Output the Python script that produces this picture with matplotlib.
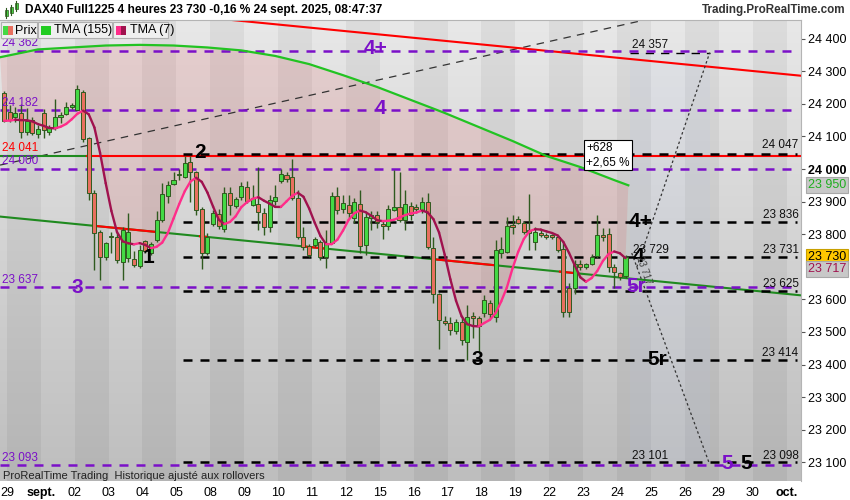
import numpy as np
import pandas as pd
import matplotlib
matplotlib.use("Agg")
import matplotlib.pyplot as plt
from matplotlib.collections import LineCollection
from matplotlib.colors import LinearSegmentedColormap
from matplotlib.patches import Rectangle

plt.rcParams['font.family'] = ['Liberation Sans', 'DejaVu Sans']

# DAX40 4h candles (6 per day), last one of 28 aug -> 24 sept 08:00
opens = [24232, 24176, 24159, 24173, 24114, 24150, 24106, 24171, 24115, 24125,
         24159, 24168, 24191, 24181, 24237, 24094, 23925, 23806, 23729, 23790,
         23792, 23716, 23726, 23723, 23702, 23780, 23741, 23782, 23843, 23918,
         23953, 23982, 23976, 24022, 23990, 23876, 23741, 23830, 23862, 23815,
         23925, 23885, 23913, 23944, 23889, 23892, 23864, 23823, 23903, 23964,
         23982, 23976, 23910, 23792, 23764, 23766, 23777, 23729, 23774, 23918,
         23876, 23889, 23849, 23892, 23767, 23849, 23858, 23831, 23825, 23874,
         23884, 23843, 23887, 23882, 23874, 23898, 23757, 23616, 23535, 23528,
         23504, 23531, 23470, 23550, 23542, 23559, 23590, 23547, 23741, 23746,
         23828, 23846, 23835, 23813, 23777, 23804, 23799, 23796, 23792, 23753,
         23634, 23634, 23710, 23698, 23710, 23733, 23799, 23800, 23700, 23680, 23672]
highs = [24240, 24196, 24191, 24200, 24186, 24161, 24135, 24183, 24135, 24214,
         24176, 24207, 24203, 24258, 24242, 24099, 23936, 23813, 23776, 23808,
         23808, 23823, 23864, 23747, 23767, 23782, 23776, 23872, 23956, 23962,
         23990, 24000, 24040, 24040, 23993, 23884, 23803, 23874, 23878, 23946,
         23946, 23915, 23960, 23962, 23951, 24007, 23879, 23920, 23951, 23999,
         23992, 24031, 23935, 23821, 23770, 23790, 23782, 23813, 23930, 23946,
         23920, 23920, 23912, 23936, 23864, 23870, 23870, 23843, 23890, 23997,
         23992, 23936, 23900, 23892, 23913, 23927, 23790, 23619, 23549, 23545,
         23539, 23550, 23583, 23560, 23549, 23614, 23598, 23782, 23792, 23854,
         23860, 23856, 23840, 23923, 23822, 23813, 23805, 23800, 23799, 23776,
         23650, 23720, 23720, 23712, 23740, 23859, 23818, 23818, 23710, 23685, 23735]
lows = [24144, 24145, 24145, 24094, 24104, 24104, 24094, 24094, 24105, 24120,
        24140, 24166, 24185, 24181, 24084, 23905, 23690, 23659, 23720, 23741,
        23711, 23659, 23716, 23700, 23695, 23742, 23736, 23777, 23838, 23895,
        23951, 23965, 23971, 23900, 23859, 23692, 23736, 23825, 23815, 23808,
        23859, 23880, 23905, 23895, 23887, 23813, 23797, 23808, 23890, 23956,
        23959, 23905, 23785, 23751, 23730, 23760, 23720, 23695, 23772, 23862,
        23864, 23849, 23834, 23741, 23736, 23813, 23820, 23786, 23813, 23872,
        23838, 23813, 23845, 23866, 23864, 23756, 23588, 23447, 23520, 23490,
        23494, 23460, 23414, 23480, 23439, 23546, 23542, 23532, 23726, 23743,
        23800, 23830, 23800, 23751, 23751, 23790, 23786, 23786, 23745, 23546,
        23547, 23617, 23690, 23692, 23705, 23727, 23780, 23685, 23634, 23660, 23666]
closes = [24148, 24150, 24173, 24114, 24147, 24110, 24122, 24120, 24125, 24159,
          24166, 24189, 24196, 24245, 24091, 23925, 23803, 23731, 23772, 23794,
          23721, 23813, 23808, 23705, 23751, 23749, 23770, 23843, 23922, 23951,
          23966, 23986, 24017, 23990, 23874, 23741, 23792, 23864, 23825, 23925,
          23889, 23908, 23949, 23902, 23910, 23867, 23821, 23905, 23915, 23985,
          23968, 23910, 23792, 23761, 23736, 23785, 23729, 23772, 23918, 23873,
          23895, 23864, 23898, 23765, 23852, 23859, 23838, 23825, 23876, 23882,
          23843, 23892, 23859, 23876, 23898, 23760, 23616, 23537, 23526, 23506,
          23530, 23475, 23547, 23542, 23518, 23598, 23555, 23751, 23754, 23825,
          23823, 23834, 23806, 23805, 23808, 23796, 23792, 23792, 23751, 23562,
          23562, 23710, 23700, 23707, 23729, 23797, 23792, 23700, 23685, 23669, 23730]

day_labels = ['29', 'sept.', '02', '03', '04', '05', '08', '09', '10', '11', '12',
              '15', '16', '17', '18', '19', '22', '23', '24', '25', '26', '29', '30', 'oct.']
bars_per_day = 6

# TMA(155) (bar index, value)
tma155_bar = [-0.7, 6, 12, 18, 24, 30, 36, 42, 48, 54, 60, 66, 72, 78, 84, 90, 96, 102, 108, 110.5]
tma155_val = [24343, 24367, 24373, 24379, 24381, 24379, 24373, 24364, 24347, 24322,
              24288, 24252, 24212, 24172, 24129, 24086, 24040, 24006, 23966, 23950]

purple_levels = [24362, 24182, 24000, 23637, 23093]
black_levels = [24047, 23836, 23731, 23625, 23414, 23100]
black_start = 31.7
resist_level = 24041
resist_switch = 14.7
target_high = 24357
target_low = 23098
target_span = (110.8, 125.0)

green_trend = ([-0.7, 141.8], [23854, 23611])
green_trend_red = [(15.8, 26.7), (34.7, 35.9), (52.9, 56.8), (75.9, 87.3), (98.4, 100.7)]
red_trend = ([40.5, 141.8], [24457, 24285])
grey_trend = ([-0.7, 113.3], [24012, 24457])
proj_up = ([112.0, 124.9], [23699, 24357])
proj_down = ([111.1, 124.8], [23742, 23098])

yticks = [24400, 24300, 24200, 24100, 24000, 23900, 23800, 23600, 23500, 23400, 23300, 23200, 23100]

x = np.arange(len(closes))
o = np.array(opens, float)
c = np.array(closes, float)
tma7 = pd.Series(c).rolling(4, min_periods=1).mean().rolling(4, min_periods=1).mean().to_numpy()

fig = plt.figure(figsize=(8.5, 5), dpi=100)
ax = fig.add_axes([0, 19 / 500, 801 / 850, 461 / 500])
xmin, xmax = -0.71, 141.06
ymin, ymax = 23042.5, 24457.3
ax.set_xlim(xmin, xmax)
ax.set_ylim(ymin, ymax)

# background: vertical gradient + alternating day bands
cmap = LinearSegmentedColormap.from_list('bg', ['#bebebe', '#e8e8e8'])
ax.imshow(np.linspace(0, 1, 256).reshape(-1, 1), extent=[xmin, xmax, ymin, ymax],
          origin='lower', aspect='auto', cmap=cmap, zorder=0)
for d in range(-1, len(day_labels)):
    if d % 2 == 0:
        ax.axvspan(bars_per_day * d + 0.5, bars_per_day * d + 6.5, color='k', alpha=0.05, lw=0, zorder=0.5)
# projection target zone
ax.fill_between(target_span, target_low, target_high, color='#b4c4ea', alpha=0.12, lw=0, zorder=0.6)

# pink zone between TMA155 and TMA7
ax.fill(np.r_[tma155_bar, x[::-1]], np.r_[tma155_val, tma7[::-1]],
        color='#e05a5a', alpha=0.17, lw=0, zorder=1)

# trend lines
ax.plot(*grey_trend, color='#333333', lw=0.9, dashes=(6, 5), zorder=2)
ax.plot(*red_trend, color='#ff0000', lw=1.5, zorder=2)
ax.plot(*green_trend, color='#1f8a1f', lw=1.5, zorder=2)
gx0, gx1 = green_trend[0]
gy0, gy1 = green_trend[1]
for a, b in green_trend_red:
    ya = gy0 + (gy1 - gy0) * (a - gx0) / (gx1 - gx0)
    yb = gy0 + (gy1 - gy0) * (b - gx0) / (gx1 - gx0)
    ax.plot([a, b], [ya, yb], color='#ff0000', lw=1.5, zorder=2.1)
ax.plot([xmin, resist_switch], [resist_level] * 2, color='#1f8a1f', lw=1.5, zorder=2)
ax.plot([resist_switch, xmax], [resist_level] * 2, color='#ff0000', lw=1.5, zorder=2)

# horizontal levels
for lv in purple_levels:
    ax.plot([xmin, 140.4], [lv, lv], color='#7b10c8', lw=1.8, dashes=(3.6, 3.2), zorder=2.5)
for lv in black_levels:
    ax.plot([black_start, 140.4], [lv, lv], color='black', lw=1.8, dashes=(3.6, 3.2), zorder=2.6)
ax.plot(target_span, [target_high] * 2, color='black', lw=1.0, dashes=(6, 5), zorder=2.4)

# projections
ax.plot(*proj_up, color='#333333', lw=0.9, dashes=(2, 2), zorder=2.7)
ax.plot(*proj_down, color='#333333', lw=0.9, dashes=(2, 2), zorder=2.7)

# candles
up = c >= o
edge = '#2f5a1f'
ax.vlines(x, lows, highs, color=edge, lw=1, zorder=3)
body = np.maximum(np.abs(c - o), 3)
ax.bar(x, body, bottom=np.minimum(o, c), width=0.72,
       color=np.where(up, '#44d944', '#e8705f'), edgecolor=edge, lw=0.7, zorder=4)

# TMA lines
ax.plot(tma155_bar, tma155_val, color='#22c322', lw=1.6, zorder=5)
pts = np.column_stack([x, tma7])
segs = np.stack([pts[:-1], pts[1:]], axis=1)
cols = np.where(np.diff(tma7) >= 0, '#ff2d8a', '#a0124e')
ax.add_collection(LineCollection(segs, colors=cols, lw=1.7, zorder=5.5, capstyle='round'))

# wave labels
big = dict(fontsize=15, fontweight='bold', ha='center', va='center', zorder=7)
for t, bx, py in [('1', 25.5, 23727), ('2', 34.7, 24052), ('3', 83.7, 23414),
                  ('4+', 112.6, 23840), ('4', 112.2, 23730), ('5r', 115.6, 23414), ('5', 131.3, 23095)]:
    ax.text(bx, py, t, color='black', **big)
for t, bx, py in [('3', 12.9, 23635), ('4+', 65.7, 24371), ('4', 66.7, 24187),
                  ('5r', 111.9, 23638), ('5', 128.0, 23095)]:
    ax.text(bx, py, t, color='#7b10c8', **big)

ytr = ax.get_yaxis_transform()
small = dict(fontsize=8.5, va='center', zorder=7)
for t, py, col in [('24 362', 24387, '#7b10c8'), ('24 182', 24203, '#7b10c8'), ('24 041', 24064, '#ff0000'),
                   ('24 000', 24025, '#7b10c8'), ('23 637', 23659, '#7b10c8'), ('23 093', 23113, '#7b10c8')]:
    ax.text(0.003, py, t, color=col, transform=ytr, ha='left', **small)
for t, py in [('24 047', 24074), ('23 836', 23859), ('23 731', 23751), ('23 625', 23647),
              ('23 414', 23435), ('23 098', 23119)]:
    ax.text(0.997, py, t, color='#111111', transform=ytr, ha='right', **small)
for t, bx, py in [('24 357', 111.2, 24381), ('23 729', 111.3, 23751), ('23 101', 111.2, 23119)]:
    ax.text(bx, py, t, color='#111111', ha='left', **small)
ax.text(113.3, 23690, '23 717', color='#444444', fontsize=7, rotation=-71,
        ha='center', va='center', zorder=7)
ax.text(103.0, 24043, '+628\n+2,65 %', fontsize=8.5, ha='left', va='center', linespacing=1.25, zorder=8,
        bbox=dict(boxstyle='square,pad=0.2', fc='white', ec='black', lw=0.8))

# axes
for name, s in ax.spines.items():
    s.set_visible(name in ('top', 'right'))
    s.set_color('#b4b4b4')
    s.set_linewidth(0.8)
ax.yaxis.tick_right()
ax.set_yticks(yticks)
ax.set_yticklabels([f'{v:,}'.replace(',', ' ') for v in yticks])
ax.tick_params(axis='y', length=3, width=0.8, pad=2, labelsize=9, color='#555555')
for lab, v in zip(ax.get_yticklabels(), yticks):
    if v == 24000:
        lab.set_fontweight('bold')
ax.set_xticks([bars_per_day * d + 0.5 for d in range(len(day_labels))])
ax.set_xticklabels(day_labels)
ax.tick_params(axis='x', length=0, pad=4, labelsize=9)
for lab in ax.get_xticklabels():
    if not lab.get_text()[0].isdigit():
        lab.set_fontweight('bold')

tag = dict(fontsize=9, ha='left', va='center', transform=ytr, zorder=9, clip_on=False)
ax.text(1.009, 23950, '23 950', color='#1fae1f',
        bbox=dict(boxstyle='square,pad=0.15', fc='#c8c8c8', ec='#a8a8a8', lw=0.8), **tag)
ax.text(1.009, 23730, '23 730', color='black',
        bbox=dict(boxstyle='square,pad=0.15', fc='#ffc800', ec='#c8a000', lw=0.8), **tag)
ax.text(1.009, 23717 - 25, '23 717', color='#a0124e',
        bbox=dict(boxstyle='square,pad=0.15', fc='#c8c8c8', ec='#a8a8a8', lw=0.8), **tag)

# header and legend
def fx(px):
    return px / 850

def fy(py):
    return 1 - py / 500

fig.text(fx(25), fy(10), 'DAX40 Full1225 4 heures 23 730 -0,16 % 24 sept. 2025, 08:47:37',
         fontsize=8.6, fontweight='bold', va='center')
fig.text(fx(845), fy(10), 'Trading.ProRealTime.com', fontsize=8.4, fontweight='bold',
         color='#333333', ha='right', va='center')
for cx, top, bot in [(6, 10, 16), (11, 7, 13), (16, 3, 9)]:
    fig.add_artist(plt.Line2D([fx(cx), fx(cx)], [fy(top - 2), fy(bot + 2)], color='#2f5a1f', lw=0.8))
    fig.add_artist(Rectangle((fx(cx - 1.5), fy(bot)), fx(3), (bot - top) / 500,
                             fc='#44d944', ec='#2f5a1f', lw=0.5))

for x0, x1 in [(1, 37), (37.5, 112), (113, 168)]:
    fig.add_artist(Rectangle((fx(x0), fy(38)), fx(x1 - x0), 15.5 / 500,
                             fc='#efefef', ec='#b0b0b0', lw=0.8, zorder=10))
for x0, col in [(3, '#44d944'), (8, '#e8705f'), (40.5, '#22cc22'), (45.5, '#22cc22'),
                (116, '#ff2d8a'), (121, '#a0124e')]:
    fig.add_artist(Rectangle((fx(x0), fy(35)), fx(5), 9 / 500, fc=col, lw=0, zorder=11))
for px, t in [(15, 'Prix'), (54, 'TMA (155)'), (130, 'TMA (7)')]:
    fig.text(fx(px), fy(30.5), t, fontsize=9, va='center', zorder=12)

fig.text(fx(3), fy(476), 'ProRealTime Trading  Historique ajusté aux rollovers',
         fontsize=8, color='#222222', va='center', zorder=12)

fig.savefig('out.png', dpi=100)
